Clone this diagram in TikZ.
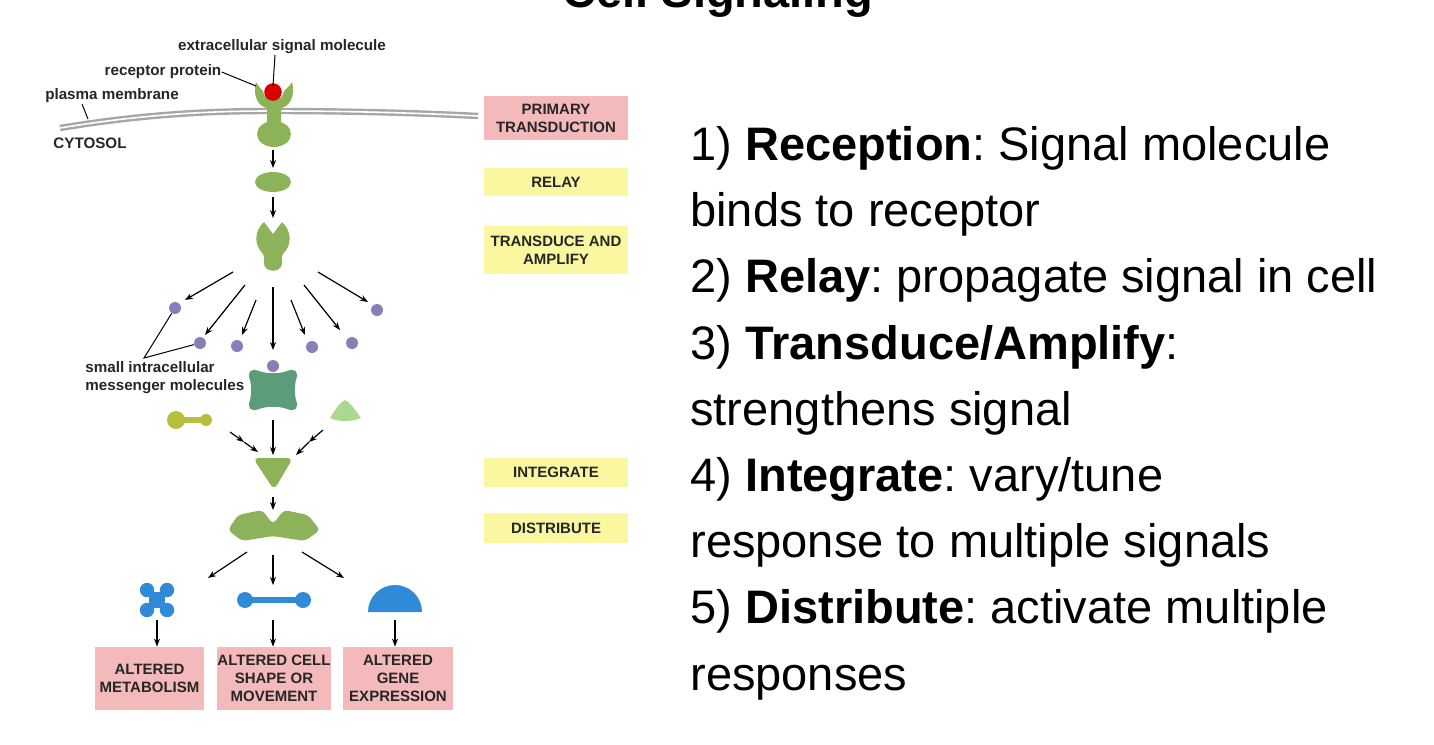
\documentclass[tikz,border=0pt]{standalone}
\usepackage{fontspec}
\setmainfont{Liberation Sans}
\usetikzlibrary{arrows.meta}
\definecolor{grn}{HTML}{8DB35A}
\definecolor{grnd}{HTML}{6E9540}
\definecolor{pur}{HTML}{8A7DB8}
\definecolor{blu}{HTML}{2F8AD8}
\definecolor{teal2}{HTML}{5C9C78}
\definecolor{pinkb}{HTML}{F3B9BB}
\definecolor{yelb}{HTML}{FBF7A1}
\definecolor{olv}{HTML}{B9BE3C}
\definecolor{lgrn}{HTML}{A9D88E}
\frenchspacing
\begin{document}
\begin{tikzpicture}[x=0.5pt,y=-0.5pt,
  arr/.style={-{Stealth[length=4pt,width=3pt]},line width=0.6pt},
  lbl/.style={font=\fontsize{7.6}{8.8}\selectfont\bfseries,inner sep=0pt,text=black!85},
  box/.style={font=\fontsize{7.5}{9}\selectfont\bfseries,align=center,inner sep=0pt,text=black!85},
  big/.style={font=\fontsize{23.5}{28}\selectfont,anchor=base west,inner sep=0pt},
  dot/.style={circle,fill=pur,minimum size=6pt,inner sep=0pt}]
\useasboundingbox (0,0) rectangle (1434,744);
% title
\node[font=\fontsize{23.5}{28}\selectfont\bfseries,anchor=base,inner sep=0pt] (title) at (718,8) {Cell Signaling};
% membrane
\draw[gray!70,line width=3.2pt] (60,128) .. controls (150,113) and (220,111) .. (270,111) .. controls (350,111) and (420,113) .. (478,116);
\draw[white,line width=0.8pt] (60,128) .. controls (150,113) and (220,111) .. (270,111) .. controls (350,111) and (420,113) .. (478,116);
% receptor
\fill[grn] (256,82) .. controls (252,98) and (260,107) .. (267,108) -- (267,125) -- (281,125) -- (281,108) .. controls (288,107) and (296,98) .. (292,82) .. controls (289,87) and (286,89) .. (284,91) .. controls (283,103) and (264,103) .. (263,91) .. controls (261,89) and (259,87) .. (256,82) -- cycle;
\fill[grn] (274,134) ellipse [x radius=17, y radius=13];
\fill[red!85!black] (273,92) circle (4.4pt);
\coordinate (sig) at (273,86);
\coordinate (rec) at (256,86);
\coordinate (mem) at (88,119);
\node[lbl] (l1) at (282,47) {extracellular signal molecule};
\node[lbl] (l2) at (163,72) {receptor protein};
\node[lbl] (l3) at (112,96) {plasma membrane};
\node[lbl] (l4) at (90,143) {CYTOSOL};
\draw[line width=0.5pt] (275,55) -- (sig);
\draw[line width=0.5pt] (l2.east) -- (rec);
\draw[line width=0.5pt] (82,104) -- (mem);
% relay
\fill[grn] (273,182) ellipse [x radius=18, y radius=10];
\coordinate (a1) at (273,150); \coordinate (a2) at (273,168);
\draw[arr] (a1) -- (a2);
\coordinate (b1) at (273,197); \coordinate (b2) at (273,218);
\draw[arr] (b1) -- (b2);
% transduce
\fill[grn] (273,234) -- (264,222) .. controls (255,230) and (253,244) .. (263,254) .. controls (266,258) and (262,262) .. (265,267) .. controls (268,272) and (278,272) .. (281,267) .. controls (284,262) and (280,258) .. (283,254) .. controls (293,244) and (291,230) .. (282,222) -- cycle;
% fan
\foreach \i/\sx/\sy/\ex/\ey in {1/233/272/185/300, 2/245/285/205/335, 3/256/300/242/335, 4/273/287/273/350, 5/291/300/305/335, 6/304/285/340/330, 7/318/272/368/302}{
  \coordinate (f\i s) at (\sx,\sy); \coordinate (f\i e) at (\ex,\ey);
  \draw[arr] (f\i s) -- (f\i e);}
\foreach \n/\x/\y in {d1/175/308, d2/200/343, d3/237/346, d4/273/366, d5/312/347, d6/352/343, d7/377/310}
  \node[dot] (\n) at (\x,\y) {};
\node[lbl,align=left,anchor=north west] (sm) at (85,361) {small intracellular\\messenger molecules};
\coordinate (cv) at (144,358);
\draw[line width=0.5pt] (d1) -- (cv) -- (d2);
% X teal
\fill[teal2,rounded corners=7pt] (245,366) -- (273,376) -- (301,366) -- (292,390) -- (301,414) -- (273,404) -- (245,414) -- (254,390) -- cycle;
% yellow dumbbell
\fill[olv] (176,417) rectangle (205,423);
\fill[olv] (176,420) circle (4.5pt);
\fill[olv] (206,420) circle (3pt);
% cone
\fill[lgrn] (330,418) .. controls (335,410) and (340,402) .. (345,400) .. controls (350,402) and (355,410) .. (361,418) .. controls (352,422) and (338,422) .. (330,418) -- cycle;
\coordinate (g1) at (230,432); \coordinate (g1m) at (244,442); \coordinate (g2) at (258,452);
\draw[arr] (g1) -- (g1m); \draw[arr] (g1m) -- (g2);
\coordinate (h1) at (273,420); \coordinate (h2) at (273,455);
\draw[arr] (h1) -- (h2);
\coordinate (k1) at (323,430); \coordinate (k1m) at (309,442); \coordinate (k2) at (296,455);
\draw[arr] (k1) -- (k1m); \draw[arr] (k1m) -- (k2);
% triangle
\fill[grn,rounded corners=3pt] (253,458) -- (293,458) -- (274,490) -- cycle;
\coordinate (m1) at (273,497); \coordinate (m2) at (273,510);
\draw[arr] (m1) -- (m2);
% distribute
\fill[grn,rounded corners=2pt] (228,530) -- (238,515) -- (262,510) -- (273,524) -- (284,510) -- (308,515) -- (320,530) -- (305,541) -- (273,536) -- (242,541) -- cycle;
\coordinate (n1s) at (247,552); \coordinate (n1e) at (208,578);
\coordinate (n2s) at (273,555); \coordinate (n2e) at (273,585);
\coordinate (n3s) at (302,552); \coordinate (n3e) at (344,578);
\draw[arr] (n1s) -- (n1e); \draw[arr] (n2s) -- (n2e); \draw[arr] (n3s) -- (n3e);
% blue shapes
\fill[blu] (149,592) rectangle (165,608);
\foreach \x/\y in {147/590,167/590,147/610,167/610} \fill[blu] (\x,\y) circle (3.6pt);
\fill[blu] (245,597) rectangle (303,603);
\fill[blu] (245,600) circle (4pt); \fill[blu] (303,600) circle (4pt);
\fill[blu] (422,612) arc[start angle=0,end angle=180,radius=13.5pt] -- cycle;
% bottom boxes
\node[box,fill=pinkb,minimum width=54.5pt,minimum height=31.5pt] (bx1) at (149.5,678.5) {ALTERED\\METABOLISM};
\node[box,fill=pinkb,minimum width=57pt,minimum height=31.5pt] (bx2) at (274,678.5) {ALTERED CELL\\SHAPE OR\\MOVEMENT};
\node[box,fill=pinkb,minimum width=55pt,minimum height=31.5pt] (bx3) at (398,678.5) {ALTERED\\GENE\\EXPRESSION};
\coordinate (p1) at (157,620); \coordinate (p2) at (273,620); \coordinate (p3) at (395,620);
\draw[arr] (p1) -- (p1 |- bx1.north);
\draw[arr] (p2) -- (p2 |- bx2.north);
\draw[arr] (p3) -- (p3 |- bx3.north);
% right boxes
\node[box,fill=pinkb,minimum width=72pt,minimum height=22pt] (r1) at (556,118) {PRIMARY\\TRANSDUCTION};
\node[box,fill=yelb,minimum width=72pt,minimum height=14pt] (r2) at (556,182) {RELAY};
\node[box,fill=yelb,minimum width=72pt,minimum height=24pt] (r3) at (556,250) {TRANSDUCE AND\\AMPLIFY};
\node[box,fill=yelb,minimum width=72pt,minimum height=14.5pt] (r4) at (556,472.5) {INTEGRATE};
\node[box,fill=yelb,minimum width=72pt,minimum height=15pt] (r5) at (556,528) {DISTRIBUTE};
% right text
\node[big] (t1) at (690,160) {1) \textbf{Reception}: Signal molecule};
\node[big] (t2) at (690,226) {binds to receptor};
\node[big] (t3) at (690,292) {2) \textbf{Relay}: propagate signal in cell};
\node[big] (t4) at (690,359) {3) \textbf{Transduce/Amplify}:};
\node[big] (t5) at (690,425) {strengthens signal};
\node[big] (t6) at (690,491) {4) \textbf{Integrate}: vary/tune};
\node[big] (t7) at (690,557) {response to multiple signals};
\node[big] (t8) at (690,623) {5) \textbf{Distribute}: activate multiple};
\node[big] (t9) at (690,690) {responses};
\end{tikzpicture}
\end{document}
